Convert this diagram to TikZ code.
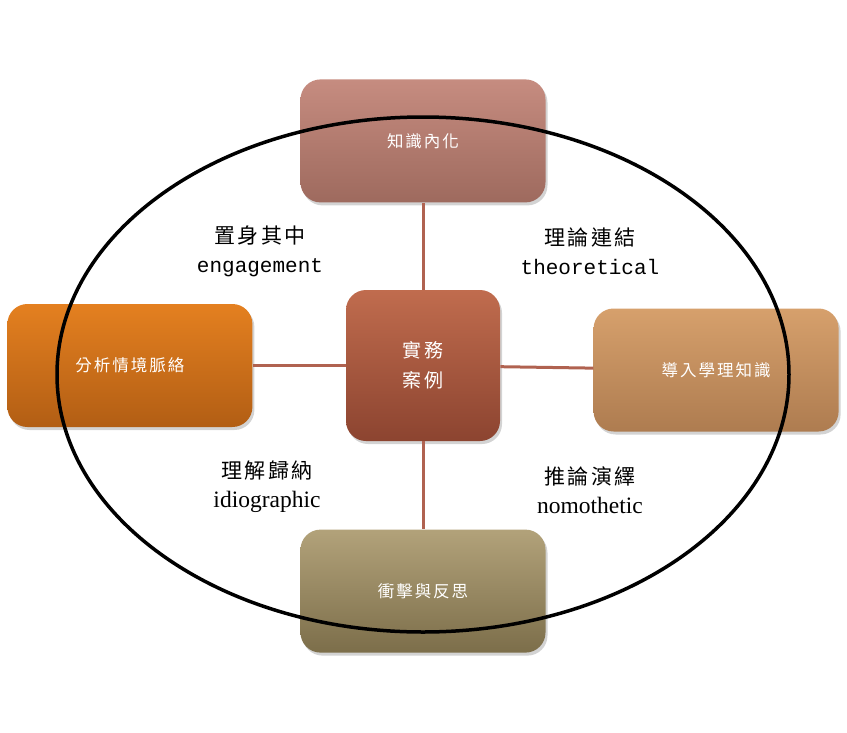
\documentclass[tikz,border=0pt]{standalone}
\usepackage{fontspec}
\setmainfont{Liberation Serif}
\setmonofont{Liberation Mono}
\newfontfamily\cjk[LetterSpace=12]{Noto Sans CJK TC}
\usetikzlibrary{positioning,shadows}

\definecolor{linkred}{RGB}{176,98,80}
\definecolor{caseT}{RGB}{192,108,78}
\definecolor{caseB}{RGB}{140,68,48}
\definecolor{roseT}{RGB}{198,140,128}
\definecolor{roseB}{RGB}{158,106,94}
\definecolor{amberT}{RGB}{228,128,32}
\definecolor{amberB}{RGB}{178,94,20}
\definecolor{tanT}{RGB}{214,160,108}
\definecolor{tanB}{RGB}{174,124,80}
\definecolor{oliveT}{RGB}{178,162,122}
\definecolor{oliveB}{RGB}{124,110,74}

\begin{document}
\begin{tikzpicture}[x=1pt,y=-1pt,semithick,
  box/.style={rounded corners=20pt, minimum width=245pt, minimum height=123pt,
              text=white, align=center, font=\cjk\fontsize{16.5}{20}\selectfont,
              drop shadow={opacity=0.35,shadow xshift=2pt,shadow yshift=-3pt}},
  link/.style={draw=linkred, line width=3pt},
  theme/.style={align=center, font=\fontsize{21}{29}\selectfont}]

\useasboundingbox (0,0) rectangle (847,732);

\node[box, minimum width=154pt, minimum height=151pt, top color=caseT, bottom color=caseB,
      font=\cjk\fontsize{19}{30}\selectfont] (A) at (423,365.5) {實務\\案例};
\node[box, top color=roseT,  bottom color=roseB]  (B) [above=87pt of A]             {知識內化};
\node[box, top color=tanT,   bottom color=tanB]   (C) [right=93pt of A, yshift=-4.5pt] {導入學理知識};
\node[box, top color=oliveT, bottom color=oliveB] (D) [below=88pt of A]             {衝擊與反思};
\node[box, top color=amberT, bottom color=amberB] (E) [left=93pt of A]              {分析情境脈絡};

  \path (A) edge [link] (B)
        (A) edge [link] (C)
        (A) edge [link] (D)
        (A) edge [link] (E)
        ;

\draw[line width=3.5pt] (423,374.5) ellipse [x radius=366pt, y radius=257.5pt];

\node[theme] (F) at (260,251) {{\cjk 置身其中}\\\texttt{engagement}};
\node[theme] (G) at (590,251) {{\cjk 理論連結}\\\texttt{theoretical}};
\node[theme] (H) at (267,487) {{\cjk 理解歸納}\\{\fontsize{23.5}{29}\selectfont idiographic}};
\node[theme] (I) at (590,490) {{\cjk 推論演繹}\\{\fontsize{23.5}{29}\selectfont nomothetic}};
\end{tikzpicture}
\end{document}
